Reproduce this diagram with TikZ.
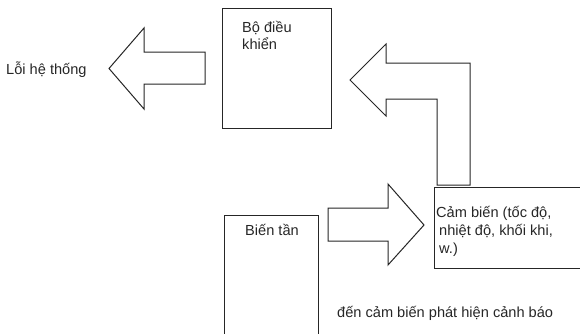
\documentclass[tikz,border=0pt]{standalone}
\usepackage{fontspec}
\setmainfont{Liberation Sans}
\begin{document}
\begin{tikzpicture}[x=1pt, y={(0pt,-1pt)},
  box/.style={draw=black!85, line width=1pt, fill=none, inner sep=0pt, anchor=north west},
  blockarrow/.style={draw=black!85, line width=1pt, line join=miter, fill=white},
  lbl/.style={inner sep=0pt, anchor=base west, font=\fontsize{14.6}{18}\selectfont, text=black!85}]
\useasboundingbox (0,0) rectangle (580,333);
% boxes
\node[box, minimum width=109pt, minimum height=120pt] (ctrl) at (222,8) {};
\node[box, minimum width=94pt, minimum height=130pt] (inv) at (224,215) {};
\node[box, minimum width=148pt, minimum height=81pt] (sens) at (434,187) {};
% block arrows
\draw[blockarrow] (109,68.5) -- (144,28) -- (144,52) -- (205,52) -- (205,84) -- (144,84) -- (144,109) -- cycle;
\draw[blockarrow] (328,208) -- (388,208) -- (388,184) -- (424,225) -- (388,265) -- (388,241) -- (328,241) -- cycle;
\draw[blockarrow] (350,80) -- (386,44) -- (386,63) -- (470,63) -- (470,185) -- (437,185) -- (437,99) -- (386,99) -- (386,116) -- cycle;
% texts
\node[lbl] (t1) at (6,74) {Lỗi hệ thống};
\node[lbl] (t2) at (242,32) {Bộ điều};
\node[lbl] (t3) at (242,49.5) {khiển};
\node[lbl] (t4) at (245,235) {Biến tần};
\node[lbl] (t5) at (436,217) {Cảm biến (tốc độ,};
\node[lbl] (t6) at (439,235) {nhiệt độ, khối khi,};
\node[lbl] (t7) at (439,253) {w.)};
\node[lbl] (t8) at (337,317) {đến cảm biến phát hiện cảnh báo};
\end{tikzpicture}
\end{document}
